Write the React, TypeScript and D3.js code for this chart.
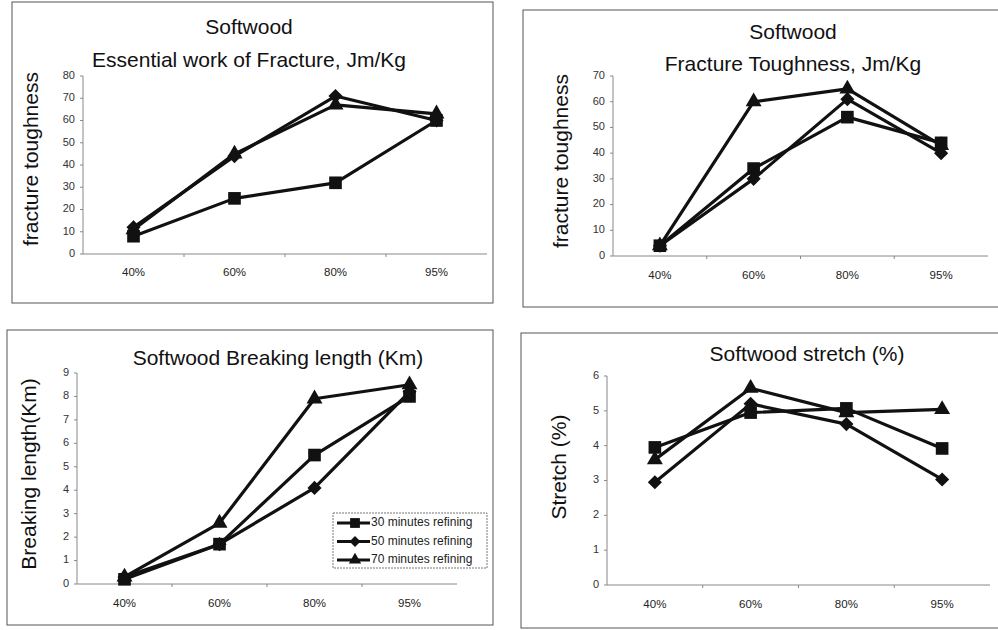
import React from "react";
import * as d3 from "d3";

const categories = ["40%", "60%", "80%", "95%"];
const seriesNames = ["30 minutes refining", "50 minutes refining", "70 minutes refining"];

const ewf30 = [8, 25, 32, 60];
const ewf50 = [12, 44, 71, 60];
const ewf70 = [11, 45, 67, 63];

const ft30 = [4, 34, 54, 44];
const ft50 = [4, 30, 61, 40];
const ft70 = [4, 60, 65, 43];

const bl30 = [0.2, 1.7, 5.5, 8.0];
const bl50 = [0.3, 1.7, 4.1, 8.2];
const bl70 = [0.3, 2.6, 7.9, 8.5];

const st30 = [3.95, 4.95, 5.07, 3.92];
const st50 = [2.95, 5.2, 4.62, 3.03];
const st70 = [3.6, 5.65, 4.95, 5.04];

const ewfTicks = [0, 10, 20, 30, 40, 50, 60, 70, 80];
const ftTicks = [0, 10, 20, 30, 40, 50, 60, 70];
const blTicks = [0, 1, 2, 3, 4, 5, 6, 7, 8, 9];
const stTicks = [0, 1, 2, 3, 4, 5, 6];

const FONT = "'Liberation Sans', Arial, Helvetica, sans-serif";
// square, diamond (rotated square), triangle
const symbolTypes = [d3.symbolSquare, d3.symbolSquare, d3.symbolTriangle];
const symbolSizes = [160, 100, 110];
const symbolRot = [0, 45, 0];

type PanelProps = {
  box: [number, number, number, number];
  plot: { left: number; right: number; top: number; bottom: number };
  yMax: number;
  ticks: number[];
  series: number[][];
  titles: { text: string; x: number; y: number }[];
  yLabel: { text: string; x: number; y: number; size: number };
  xLabelY: number;
  legend?: { x: number; y: number; w: number; h: number };
};

function Panel(p: PanelProps) {
  const [bx, by, bw, bh] = p.box;
  const x = d3.scaleBand<string>().domain(categories).range([p.plot.left, p.plot.right]);
  const y = d3.scaleLinear().domain([0, p.yMax]).range([p.plot.bottom, p.plot.top]);
  const line = d3
    .line<number>()
    .x((_, i) => (x(categories[i]) as number) + x.bandwidth() / 2)
    .y((d) => y(d));
  return (
    <g>
      <rect x={bx} y={by} width={bw} height={bh} fill="#fff" stroke="#555" strokeWidth={1} />
      {p.titles.map((t, i) => (
        <text key={i} x={t.x} y={t.y} textAnchor="middle" dominantBaseline="middle" fontFamily={FONT} fontSize={21} fill="#111">
          {t.text}
        </text>
      ))}
      <text
        transform={`translate(${p.yLabel.x},${p.yLabel.y}) rotate(-90)`}
        textAnchor="middle"
        dominantBaseline="middle"
        fontFamily={FONT}
        fontSize={p.yLabel.size}
        fill="#111"
      >
        {p.yLabel.text}
      </text>
      {/* axes */}
      <line x1={p.plot.left} x2={p.plot.left} y1={p.plot.top} y2={p.plot.bottom} stroke="#888" strokeWidth={1} />
      <line x1={p.plot.left} x2={p.plot.right} y1={p.plot.bottom} y2={p.plot.bottom} stroke="#888" strokeWidth={1} />
      {p.ticks.map((t) => (
        <g key={t}>
          <line x1={p.plot.left - 3} x2={p.plot.left} y1={y(t)} y2={y(t)} stroke="#888" />
          <text x={p.plot.left - 8} y={y(t)} textAnchor="end" dominantBaseline="middle" fontFamily={FONT} fontSize={11} fill="#333">
            {t}
          </text>
        </g>
      ))}
      {categories.map((c, i) => (
        <g key={c}>
          {i > 0 && (
            <line x1={x(c) as number} x2={x(c) as number} y1={p.plot.bottom} y2={p.plot.bottom + 3} stroke="#888" />
          )}
          <text
            x={(x(c) as number) + x.bandwidth() / 2}
            y={p.xLabelY}
            textAnchor="middle"
            dominantBaseline="middle"
            fontFamily={FONT}
            fontSize={11.5}
            fill="#222"
          >
            {c}
          </text>
        </g>
      ))}
      {p.series.map((s, si) => (
        <g key={si}>
          <path d={line(s) as string} fill="none" stroke="#111" strokeWidth={3.2} strokeLinejoin="round" />
          {s.map((v, i) => (
            <path
              key={i}
              d={d3.symbol().type(symbolTypes[si]).size(symbolSizes[si])() as string}
              transform={`translate(${(x(categories[i]) as number) + x.bandwidth() / 2},${y(v)}) rotate(${symbolRot[si]})`}
              fill="#111"
            />
          ))}
        </g>
      ))}
      {p.legend && (
        <g>
          <rect x={p.legend.x} y={p.legend.y} width={p.legend.w} height={p.legend.h} fill="#fff" stroke="#777" strokeDasharray="2,1" />
          {seriesNames.map((n, i) => {
            const ry = p.legend!.y + 10 + i * 18.5;
            return (
              <g key={n}>
                <line x1={p.legend!.x + 4} x2={p.legend!.x + 37} y1={ry} y2={ry} stroke="#111" strokeWidth={3} />
                <path
                  d={d3.symbol().type(symbolTypes[i]).size(symbolSizes[i] * 0.6)() as string}
                  transform={`translate(${p.legend!.x + 22},${ry}) rotate(${symbolRot[i]})`}
                  fill="#111"
                />
                <text x={p.legend!.x + 38} y={ry} dominantBaseline="middle" fontFamily={FONT} fontSize={12} fill="#222">
                  {n}
                </text>
              </g>
            );
          })}
        </g>
      )}
    </g>
  );
}

export default function App() {
  return (
    <svg width={998} height={630} style={{ position: "absolute", left: 0, top: 0 }}>
      <rect x={0} y={0} width={998} height={630} fill="#fff" />
      <Panel
        box={[12, 2, 481, 301]}
        plot={{ left: 83, right: 487, top: 76, bottom: 254 }}
        yMax={80}
        ticks={ewfTicks}
        series={[ewf30, ewf50, ewf70]}
        titles={[
          { text: "Softwood", x: 249, y: 28 },
          { text: "Essential work of Fracture, Jm/Kg", x: 249, y: 61 },
        ]}
        yLabel={{ text: "fracture toughness", x: 32, y: 159, size: 21 }}
        xLabelY={273}
      />
      <Panel
        box={[523, 10, 480, 297]}
        plot={{ left: 613, right: 988, top: 76, bottom: 256 }}
        yMax={70}
        ticks={ftTicks}
        series={[ft30, ft50, ft70]}
        titles={[
          { text: "Softwood", x: 793, y: 33 },
          { text: "Fracture Toughness, Jm/Kg", x: 793, y: 65 },
        ]}
        yLabel={{ text: "fracture toughness", x: 562, y: 161, size: 21 }}
        xLabelY={276}
      />
      <Panel
        box={[7, 330, 486, 295]}
        plot={{ left: 77, right: 457, top: 373, bottom: 584 }}
        yMax={9}
        ticks={blTicks}
        series={[bl30, bl50, bl70]}
        titles={[{ text: "Softwood Breaking length (Km)", x: 278, y: 359 }]}
        yLabel={{ text: "Breaking length(Km)", x: 30, y: 474, size: 21 }}
        xLabelY={604}
        legend={{ x: 333, y: 513, w: 154, h: 55 }}
      />
      <Panel
        box={[521, 333, 480, 295]}
        plot={{ left: 607, right: 990, top: 376, bottom: 585 }}
        yMax={6}
        ticks={stTicks}
        series={[st30, st50, st70]}
        titles={[{ text: "Softwood stretch (%)", x: 807, y: 355 }]}
        yLabel={{ text: "Stretch (%)", x: 560, y: 467, size: 21 }}
        xLabelY={605}
      />
    </svg>
  );
}
